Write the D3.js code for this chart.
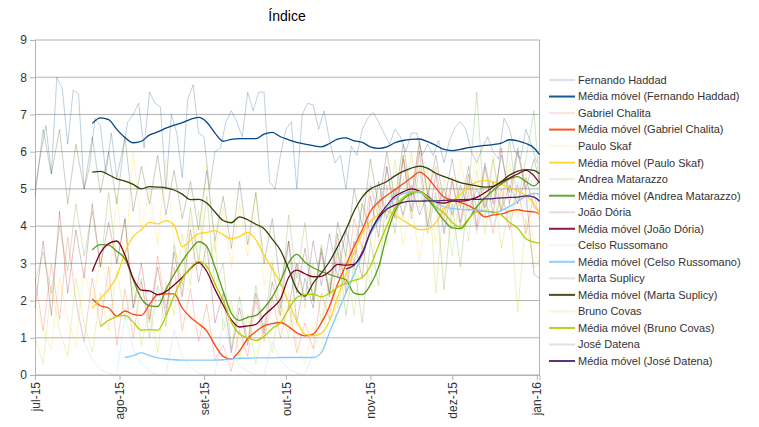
<!DOCTYPE html>
<html><head><meta charset="utf-8">
<script src="https://cdn.jsdelivr.net/npm/d3@7"></script>
<style>body{margin:0;background:#fff}svg{display:block;font-family:"Liberation Sans",Arial,sans-serif}</style>
</head><body><svg id="c" width="759" height="427"></svg>
<script>
// ---------- data ----------
const title = "Índice";
const startDate = Date.UTC(2015, 6, 1);
const monthTicks = ["jul-15","ago-15","set-15","out-15","nov-15","dez-15","jan-16"];
const monthTickDays = [0, 31, 62, 92, 123, 153, 184];
const yTicks = [0,1,2,3,4,5,6,7,8,9];

// day offsets (from 1 Jul 2015) of the 3-day sample grid
const gridDays = [0,3,6,9,12,15,18,21,24,27,30,33,36,39,42,45,48,51,54,57,60,63,66,69,72,75,78,81,84,87,90,93,96,99,102,105,108,111,114,117,120,123,126,129,132,135,138,141,144,147,150,153,156,159,162,165,168,171,174,177,180,183,185];
// day offsets of the 2-day grid used for Haddad daily index
const haddadDays = [0,2,4,6,8,10,12,14,16,18,20,22,24,26,28,30,32,34,36,38,40,42,44,46,48,50,52,54,56,58,60,62,64,66,68,70,72,74,76,78,80,82,84,86,88,90,92,94,96,98,100,102,104,106,108,110,112,114,116,118,120,122,124,126,128,130,132,134,136,138,140,142,144,146,148,150,152,154,156,158,160,162,164,166,168,170,172,174,176,178,180,182,184];

const names = ["Fernando Haddad","Gabriel Chalita","Paulo Skaf","Andrea Matarazzo","João Dória","Celso Russomano","Marta Suplicy","Bruno Covas","José Datena"];
const colors = ["#004586","#ff420e","#ffd320","#579d1c","#7e0021","#83caff","#314004","#aecf00","#4b1f6f"];

const rawHaddad = [5.0,5.9,6.7,5.4,8.0,7.7,6.2,7.65,7.55,5.0, 5.6,6.9,6.7,5.4,6.5,5.3,6.0,6.8,7.0,7.3, 6.1,7.6,7.3,7.2,5.0,7.0,6.5,5.3,7.4,7.8, 6.5,6.4,5.0,6.0,6.1,6.8,7.1,6.8,6.4,7.6, 7.1,7.6,7.6,5.2,5.0,5.9,6.6,6.8,5.0,7.0, 7.3,7.25,6.6,7.1,6.3,5.7,5.9,5.0,6.15,5.9, 6.6,6.9,7.05,6.8,6.5,6.2,6.6,6.4,6.0,6.5, 6.5,5.9,6.2,5.9,6.3,5.7,6.3,6.65,6.8,6.6, 6.0,5.7,6.1,6.4,6.0,5.8,6.9,6.6,6.0,5.8, 6.6,6.2,5.7];
const rawChalita = [2.6,1.2,3.0,1.5,3.7,2.0,0.9,2.6,1.3,2.9, 0.8,2.3,1.0,2.5,1.4,3.2,1.8,2.9,1.2,2.3, 0.9,1.9,0.4,0.8,0.1,1.2,0.5,2.0,0.9,2.1, 1.0,1.9,0.6,1.4,0.7,2.2,1.5,3.3,2.4,4.2, 3.4,5.1,4.2,5.6,4.4,5.9,4.7,6.2,4.9,5.6, 4.2,5.3,4.0,5.2,3.9,4.8,3.8,5.0,3.9,5.1, 3.8,4.9,4.2];
const rawSkaf = [2.0,1.2,0.7,2.6,1.5,0.8,2.9,1.8,3.2,2.2, 4.8,3.0,6.0,3.9,5.0,3.5,5.8,3.6,2.2,4.2, 3.1,5.7,3.3,4.5,2.9,4.6,3.2,4.9,2.4,3.1, 1.4,2.2,0.8,0.3,1.3,0.6,2.5,1.4,3.6,2.8, 4.9,3.6,5.2,4.0,4.9,3.5,4.6,3.1,4.5,3.6, 5.3,4.0,5.8,4.6,6.0,4.5,5.9,4.4,5.7,4.2, 5.4,3.4,3.0];
const rawMatarazzo = [2.5,3.3,2.2,4.0,2.8,4.6,3.2,4.4,2.9,4.9, 3.0,4.2,1.8,2.6,1.0,2.4,1.3,3.5,2.4,4.5, 3.0,4.8,2.4,3.0,0.7,2.1,0.9,2.4,1.2,3.0, 1.8,4.3,2.6,4.1,2.0,3.5,2.2,3.4,1.6,3.0, 1.4,3.6,2.4,5.1,3.8,5.9,4.2,5.6,3.8,4.9, 2.3,4.6,2.9,5.0,7.6,4.2,5.8,4.4,6.3,4.6, 5.8,7.1,5.0];
const rawDoria = [1.8,3.6,1.6,4.4,2.2,3.9,2.6,4.6,2.9,4.1, 3.0,4.2,1.8,3.0,1.5,2.9,1.6,3.3,2.1,3.9, 2.5,3.5,1.4,2.2,0.6,1.8,0.8,2.2,1.1,2.5, 1.6,3.6,2.2,3.4,2.0,3.3,2.1,3.8,2.2,3.6, 2.6,4.8,3.7,5.6,4.2,5.8,4.4,6.0,4.0,5.4, 3.8,5.2,4.1,5.4,4.0,5.6,4.3,6.1,4.6,6.0, 4.9,2.7,2.6];
const rawRussomano = [null,null,null,null,null, 1.9,0.9,0.4,0.15,0.05,0.0, 1.6,0.7,0.3,0.1,0.0,0.0, 1.2,0.5,0.2,0.05,0.0,0.0, 1.5,0.6,0.25,0.1,0.0,0.0, 0.9,0.4,0.15,0.05,0.0, 0.6,1.4,2.4,3.0,3.8,3.4,4.6,5.2,4.3,5.5,4.6,5.3,4.4,5.0,4.1,4.8,3.9,4.6,4.0,4.9,3.8,4.7,4.0,4.8,4.2,5.2,4.5,5.5, 4.6];
const rawMarta = [4.8,6.6,5.4,6.6,4.6,6.2,5.0,6.4,4.9,6.0, 4.6,6.4,4.4,5.6,4.6,5.9,4.3,5.5,4.2,5.2, 3.9,5.5,3.6,4.8,3.4,5.2,3.5,4.9,3.0,4.2, 2.4,3.6,1.4,2.6,1.8,3.4,2.2,4.1,3.2,5.0, 4.0,5.8,4.5,6.0,4.7,6.2,4.8,6.3,4.8,5.9, 4.6,5.8,4.5,5.6,4.4,5.7,4.6,5.9,4.9,6.1, 5.0,5.8,5.2];
const rawCovas = [1.0,0.3,2.4,1.2,0.5,2.6,1.4,0.6,2.2,1.2, 2.8,1.5,2.4,0.8,1.8,0.6,2.5,1.6,3.8,2.4, 4.4,2.8,3.6,1.2,2.0,0.4,1.6,0.3,1.4,0.6, 2.0,1.0,3.0,1.8,3.0,1.4,2.6,1.8,3.2,1.6, 3.5,2.4,4.6,3.5,5.8,4.2,6.0,4.5,5.6,2.2, 4.8,3.2,5.0,3.6,5.5,3.8,5.2,3.4,4.6,1.7, 4.2,2.9,3.0];
const rawDatena = [null,null,null,null,null,null,null,null,null,null, null,null,null,null,null,null,null,null,null,null, null,null,null,null,null,null,null,null,null,null, null, 1.8,3.0,2.0,3.6,2.4,3.8,2.6,3.9,3.0,4.6,3.8,5.2,4.2,5.0,4.3,5.1,4.3,4.9,4.4,5.0,4.3,5.1,4.4,5.0,4.5,5.2,4.4,5.1,4.6,5.3,4.5,4.4];

// moving averages on the 3-day grid (null = not yet defined)
const N7 = [null,null,null,null,null,null,null];
const maHaddad = N7.concat([6.76,6.91,6.86,6.6,6.38,6.24,6.28,6.45,6.53,6.63,6.71,6.78,6.87,6.92,6.79,6.5,6.28,6.33,6.35,6.35,6.35,6.47,6.52,6.40,6.32,6.25,6.2,6.16,6.13,6.22,6.34,6.37,6.29,6.25,6.13,6.09,6.13,6.24,6.3,6.33,6.34,6.27,6.17,6.06,6.03,6.06,6.11,6.14,6.17,6.19,6.23,6.32,6.29,6.22,6.1,5.92]);
const maChalita = N7.concat([2.04,1.86,1.8,1.58,1.72,1.63,1.6,1.9,2.16,2.18,2.18,1.8,1.55,1.38,1.18,0.8,0.5,0.43,0.65,0.98,1.17,1.32,1.38,1.41,1.3,1.13,1.05,1.1,1.4,1.85,2.45,2.95,3.45,3.9,4.4,4.65,4.83,4.98,5.14,5.3,5.45,5.3,5.02,4.78,4.7,4.64,4.55,4.42,4.25,4.3,4.32,4.4,4.44,4.4,4.38,4.33]);
const maSkaf = N7.concat([1.79,2.05,2.3,2.65,3.3,3.72,3.9,4.1,4.06,4.15,4.03,3.45,3.62,3.8,3.83,3.88,3.77,3.66,3.72,3.83,3.63,3.22,2.85,2.47,1.95,1.45,1.1,1.06,1.12,1.45,2.1,2.7,3.3,3.8,4.13,4.3,4.4,4.3,4.15,4.02,3.9,3.92,4.1,4.45,4.68,4.85,5.08,5.18,5.22,5.19,5.12,5.02,4.95,4.82,4.6,4.31]);
const maMatarazzo = N7.concat([3.36,3.5,3.49,3.32,3.12,2.56,2.05,1.86,1.84,2.3,2.7,3.06,3.36,3.58,3.45,2.9,2.25,1.66,1.47,1.55,1.6,1.8,2.1,2.52,3.02,3.24,3.03,2.88,2.78,2.7,2.63,2.56,2.2,2.16,2.42,2.9,3.75,4.4,4.72,4.87,4.92,4.72,4.45,4.15,3.95,3.93,4.18,4.52,4.76,4.96,5.13,5.27,5.33,5.2,5.08,5.2]);
const maDoria = N7.concat([2.78,3.28,3.53,3.6,3.22,2.6,2.28,2.26,2.16,2.24,2.42,2.62,2.86,3.02,2.78,2.3,1.88,1.48,1.29,1.32,1.36,1.6,1.8,2.04,2.62,2.82,2.72,2.64,2.65,2.78,2.97,2.95,2.97,3.3,3.82,4.25,4.55,4.8,4.92,5.0,4.94,4.8,4.64,4.62,4.67,4.67,4.7,4.77,4.9,5.05,5.18,5.29,5.4,5.5,5.35,5.16]);
const maRussomano = [null,null,null,null,null,null,null,null,null,null,null, 0.47,0.52,0.6,0.52,0.46,0.43,0.41,0.4,0.4,0.4,0.4,0.4,0.41,0.43,0.45,0.45,0.46,0.46,0.46,0.47,0.47,0.47,0.47,0.47,0.6,1.15,1.68,2.2,2.7,3.25,3.78,4.14,4.5,4.76,4.87,4.91,4.9,4.77,4.62,4.52,4.47,4.45,4.44,4.44,4.4,4.36,4.42,4.53,4.66,4.8,4.88,4.85];
const maMarta = N7.concat([5.45,5.47,5.38,5.27,5.21,5.12,5.0,5.06,5.05,5.03,4.97,4.86,4.71,4.72,4.62,4.38,4.15,4.09,4.25,4.17,4.05,3.93,3.65,3.35,2.85,2.3,2.12,2.47,2.74,3.05,3.45,3.9,4.4,4.78,5.0,5.1,5.2,5.35,5.47,5.56,5.61,5.55,5.42,5.33,5.25,5.17,5.12,5.08,5.05,5.07,5.2,5.37,5.48,5.52,5.5,5.41]);
const maCovas = [null,null,null,null,null,null,null,null, 1.3,1.47,1.57,1.6,1.42,1.2,1.22,1.2,1.58,2.13,2.58,2.88,3.05,2.92,2.45,2.0,1.42,1.1,1.0,0.93,1.04,1.25,1.4,1.77,2.08,2.16,2.17,2.1,2.19,2.36,2.47,2.54,2.62,2.93,3.48,4.0,4.5,4.77,4.9,4.93,4.78,4.52,4.35,4.1,3.97,4.2,4.38,4.4,4.38,4.3,4.1,3.95,3.66,3.57,3.54];
const maDatena = [null,null,null,null,null,null,null,null,null,null, null,null,null,null,null,null,null,null,null,null, null,null,null,null,null,null,null,null,null,null, null,null,null,null,null,null,null,null, 2.85,2.95,3.25,3.85,4.22,4.45,4.57,4.64,4.67,4.67,4.68,4.68,4.69,4.7,4.71,4.72,4.72,4.73,4.74,4.76,4.77,4.78,4.81,4.78,4.67];

const rawSeries = [rawHaddad,rawChalita,rawSkaf,rawMatarazzo,rawDoria,rawRussomano,rawMarta,rawCovas,rawDatena];
const maSeries = [maHaddad,maChalita,maSkaf,maMatarazzo,maDoria,maRussomano,maMarta,maCovas,maDatena];

// ---------- drawing ----------
const svg = d3.select("#c");
const DAY = 86400000;
const toDate = d => new Date(startDate + d * DAY);
const x = d3.scaleUtc().domain([toDate(0), toDate(185)]).range([35, 539.5]);
const y = d3.scaleLinear().domain([0, 9]).range([375, 40]);
const grid = "#b3b3b3";

svg.append("text").attr("x", 287).attr("y", 21).attr("text-anchor", "middle")
  .attr("font-size", 14).attr("fill", "#000").text(title);

// horizontal gridlines
svg.append("g").selectAll("line").data(yTicks).join("line")
  .attr("x1", 35).attr("x2", 539.5).attr("y1", d => y(d)).attr("y2", d => y(d))
  .attr("stroke", grid).attr("stroke-width", 1);
// right border
svg.append("line").attr("x1", 539.5).attr("x2", 539.5).attr("y1", y(9)).attr("y2", y(0)).attr("stroke", grid);

// y axis
const yAxis = svg.append("g").attr("transform", "translate(35,0)")
  .call(d3.axisLeft(y).tickValues(yTicks).tickSize(5).tickPadding(3).tickFormat(d3.format("d")));
yAxis.select(".domain").attr("stroke", grid);
yAxis.selectAll(".tick line").attr("stroke", grid);
yAxis.selectAll("text").attr("font-size", 12).attr("fill", "#333").attr("font-family", "Liberation Sans, Arial, sans-serif");

// x axis
const xAxis = svg.append("g").attr("transform", "translate(0,375)")
  .call(d3.axisBottom(x).tickValues(monthTickDays.map(toDate)).tickSize(5)
    .tickFormat((d, i) => monthTicks[i]));
xAxis.select(".domain").attr("stroke", grid);
xAxis.selectAll(".tick line").attr("stroke", grid);
xAxis.selectAll("text").attr("font-size", 12).attr("fill", "#333")
  .attr("font-family", "Liberation Sans, Arial, sans-serif")
  .attr("transform", "rotate(-90)").attr("text-anchor", "end")
  .attr("x", -7).attr("y", 0).attr("dy", "0.35em");

const plot = svg.append("g");
const lineGen = days => d3.line()
  .defined(d => d != null)
  .x((d, i) => x(toDate(days[i])))
  .y(d => y(d));

// raw series (transparent)
rawSeries.forEach((s, k) => {
  const days = k === 0 ? haddadDays : gridDays;
  plot.append("path").attr("d", lineGen(days).curve(d3.curveLinear)(s))
    .attr("fill", "none").attr("stroke", colors[k]).attr("stroke-opacity", 0.25)
    .attr("stroke-width", 1);
});
// moving averages
maSeries.forEach((s, k) => {
  plot.append("path").attr("d", lineGen(gridDays).curve(d3.curveMonotoneX)(s))
    .attr("fill", "none").attr("stroke", colors[k]).attr("stroke-width", 1.3);
});

// legend
const legendItems = [];
names.forEach((n, k) => {
  legendItems.push({label: n, color: colors[k], raw: true});
  legendItems.push({label: "Média móvel (" + n + ")", color: colors[k], raw: false});
});
const lg = svg.append("g");
legendItems.forEach((it, i) => {
  const cy = 80 + i * 16.53;
  lg.append("line").attr("x1", 549).attr("x2", 575).attr("y1", cy).attr("y2", cy)
    .attr("stroke", it.color).attr("stroke-width", 2)
    .attr("stroke-opacity", it.raw ? 0.15 : 0.9);
  lg.append("text").attr("x", 578).attr("y", cy).attr("dy", "0.35em")
    .attr("font-size", 11).attr("fill", "#333").text(it.label);
});
</script></body></html>
